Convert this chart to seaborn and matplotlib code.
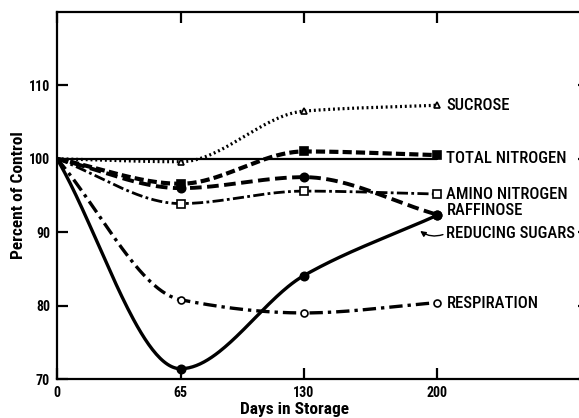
import numpy as np
import pandas as pd
import matplotlib
matplotlib.use("Agg")
import matplotlib.pyplot as plt
import seaborn as sns

# Data
days = [0, 65, 130, 200]
sucrose = [100.0, 99.6, 106.5, 107.3]
total_nitrogen = [100.0, 96.6, 101.0, 100.5]
amino_nitrogen = [100.0, 93.9, 95.6, 95.2]
raffinose = [100.0, 96.0, 97.5, 92.4]
reducing_sugars = [100.0, 71.4, 84.1, 92.3]
respiration = [100.0, 80.8, 79.0, 80.4]

series_names = ["SUCROSE", "TOTAL NITROGEN", "AMINO NITROGEN",
                "RAFFINOSE", "REDUCING SUGARS", "RESPIRATION"]
series_values = [sucrose, total_nitrogen, amino_nitrogen,
                 raffinose, reducing_sugars, respiration]
label_y = [107.3, 100.1, 95.2, 92.9, 89.8, 80.3]

x_ticks = [0, 65, 130, 200]
y_ticks = [70, 80, 90, 100, 110]


def pchip(x, y, xs):
    """Monotone cubic curve through the data points (for drawing only)."""
    x = np.asarray(x, float)
    y = np.asarray(y, float)
    h = np.diff(x)
    d = np.diff(y) / h
    m = np.zeros_like(y)
    for k in range(1, len(x) - 1):
        if d[k - 1] * d[k] > 0:
            w1 = 2 * h[k] + h[k - 1]
            w2 = h[k] + 2 * h[k - 1]
            m[k] = (w1 + w2) / (w1 / d[k - 1] + w2 / d[k])
    m[0] = d[0]
    m[-1] = d[-1]
    out = np.empty_like(xs)
    for i, xv in enumerate(xs):
        k = min(np.searchsorted(x, xv, side="right") - 1, len(x) - 2)
        t = (xv - x[k]) / h[k]
        h00 = 2 * t**3 - 3 * t**2 + 1
        h10 = t**3 - 2 * t**2 + t
        h01 = -2 * t**3 + 3 * t**2
        h11 = t**3 - t**2
        out[i] = h00 * y[k] + h10 * h[k] * m[k] + h01 * y[k + 1] + h11 * h[k] * m[k + 1]
    return out


sns.set_style("ticks")
narrow = ["Roboto Condensed", "Roboto", "DejaVu Sans"]
plt.rcParams["font.family"] = narrow
plt.rcParams["text.color"] = "black"
plt.rcParams["axes.labelcolor"] = "black"
plt.rcParams["xtick.color"] = "black"
plt.rcParams["ytick.color"] = "black"
plt.rcParams["axes.edgecolor"] = "black"

fig = plt.figure(figsize=(5.79, 4.18), dpi=100)
ax = fig.add_axes([57 / 579, 39 / 418, 532 / 579, 367 / 418])

styles = {
    "SUCROSE": dict(ls=(0, (0.6, 0.9)), lw=2.3, marker="^", mfc="white", ms=5),
    "TOTAL NITROGEN": dict(ls=(0, (2.2, 1.0)), lw=3.0, marker="s", mfc="black", ms=6),
    "AMINO NITROGEN": dict(ls=(0, (4, 1.2, 1, 1.2)), lw=2.0, marker="s", mfc="white", ms=6),
    "RAFFINOSE": dict(ls=(0, (3.0, 1.4)), lw=2.8, marker="o", mfc="black", ms=6),
    "REDUCING SUGARS": dict(ls="-", lw=2.4, marker="o", mfc="black", ms=6),
    "RESPIRATION": dict(ls=(0, (4, 1.5, 1, 1.5)), lw=2.4, marker="o", mfc="white", ms=5),
}

# reference line at 100
ax.plot([days[0], days[-1]], [100, 100], color="black", lw=1.6)

xs = np.linspace(days[0], days[-1], 200)
for name, vals in zip(series_names, series_values):
    st = styles[name]
    curve = pd.DataFrame({"day": xs, "value": pchip(days, vals, xs)})
    sns.lineplot(data=curve, x="day", y="value", ax=ax, color="black",
                 linestyle=st["ls"], linewidth=st["lw"], estimator=None, sort=False)
    pts = pd.DataFrame({"day": days[1:], "value": vals[1:]})
    ax.plot(pts["day"], pts["value"], linestyle="none", marker=st["marker"],
            ms=st["ms"], mfc=st["mfc"], mec="black", mew=1.2, zorder=5)

for name, yv in zip(series_names, label_y):
    ax.text(205, yv, name, fontsize=12, fontweight="medium",
            va="center", ha="left", family=narrow)

ax.annotate("", xy=(190, 90.4), xytext=(204.5, 89.8),
            arrowprops=dict(arrowstyle="-|>", color="black", lw=1.0,
                            mutation_scale=8, connectionstyle="arc3,rad=-0.3"))

ax.set_xlim(0, 280)
ax.set_ylim(70, 120)
ax.set_xticks(x_ticks)
ax.set_xticklabels([str(t) for t in x_ticks])
ax.set_yticks(y_ticks)
ax.set_yticklabels([str(t) for t in y_ticks])
ax.tick_params(direction="in", length=8, width=1.6, top=True, right=True,
               labelsize=10, pad=5)
for lab in ax.get_xticklabels() + ax.get_yticklabels():
    lab.set_fontweight("bold")
for sp in ax.spines.values():
    sp.set_linewidth(1.6)

ax.set_xlabel("Days in Storage", fontsize=12.5, fontweight="bold")
ax.xaxis.label.set_va("center")
ax.xaxis.set_label_coords(125 / 280, -0.083)
ax.set_ylabel("Percent of Control", fontsize=12.5, fontweight="bold")
ax.yaxis.set_label_coords(-0.058, 0.5)

fig.savefig("out.png", dpi=100)
